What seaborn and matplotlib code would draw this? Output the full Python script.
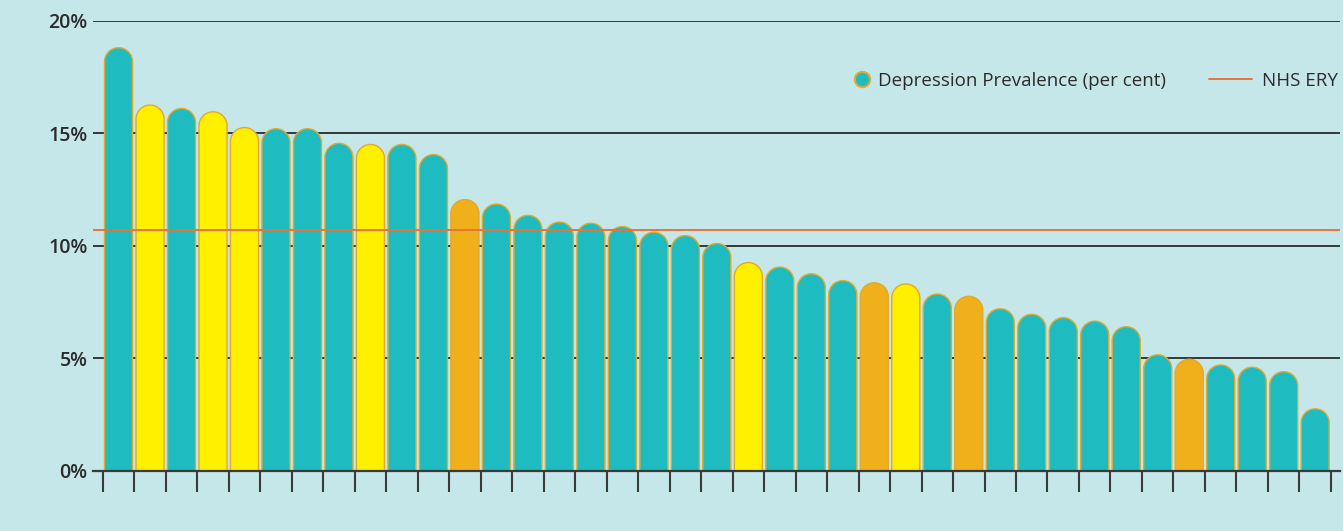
import numpy as np
import pandas as pd
import matplotlib
matplotlib.use("Agg")
import matplotlib.pyplot as plt
from matplotlib.path import Path
from matplotlib.patches import PathPatch
from matplotlib.lines import Line2D
import seaborn as sns

# Depression prevalence (per cent) by area, sorted high to low
prevalence = [18.8, 16.25, 16.1, 15.95, 15.25, 15.2, 15.2, 14.55, 14.5, 14.5,
              14.05, 12.05, 11.85, 11.35, 11.05, 11.0, 10.85, 10.6, 10.45, 10.1,
              9.25, 9.05, 8.75, 8.45, 8.35, 8.3, 7.85, 7.75, 7.2, 6.95,
              6.8, 6.65, 6.4, 5.15, 4.95, 4.7, 4.6, 4.4, 2.75]
# Grouping of each area
group = ["other", "peer", "other", "peer", "peer", "other", "other", "other", "peer", "other",
         "other", "local", "other", "other", "other", "other", "other", "other", "other", "other",
         "peer", "other", "other", "other", "local", "peer", "other", "local", "other", "other",
         "other", "other", "other", "other", "local", "other", "other", "other", "other"]
areas = [f"Area {i + 1}" for i in range(len(prevalence))]
nhs_ery = 10.7
y_ticks = [0, 5, 10, 15, 20]
y_tick_labels = ["0%", "5%", "10%", "15%", "20%"]
series_label = "Depression Prevalence (per cent)"
line_label = "NHS ERY"

BG = "#c5e7e9"
TEAL = "#1ebcc0"
YELLOW = "#fff000"
ORANGE = "#f0b01c"
EDGE = "#e3a92a"
LINE = "#e8743b"
INK = "#2b2b2b"
palette = {"other": TEAL, "peer": YELLOW, "local": ORANGE}

sns.set_theme(style="white")
plt.rcParams["font.family"] = ["Open Sans", "DejaVu Sans"]

df = pd.DataFrame({"area": areas, "value": prevalence, "group": group})

W, H = 1343, 531
fig = plt.figure(figsize=(W / 100, H / 100), dpi=100, facecolor=BG)
ax = fig.add_axes([0.0695, 0.1136, 0.9283, 0.8474])
ax.set_facecolor(BG)

sns.barplot(data=df, x="area", y="value", hue="group", palette=palette,
            saturation=1, dodge=False, width=0.89, legend=False, ax=ax, zorder=3)

ax.set_xlim(-0.8, 38.79)
ax.set_ylim(0, 20)

# Give each bar a rounded (semicircular) top
fig.canvas.draw()
bbox = ax.get_window_extent()
px_per_x = bbox.width / (ax.get_xlim()[1] - ax.get_xlim()[0])
px_per_y = bbox.height / (ax.get_ylim()[1] - ax.get_ylim()[0])
bars = list(ax.patches)
for p in bars:
    x0, w, h = p.get_x(), p.get_width(), p.get_height()
    if h <= 0:
        p.remove()
        continue
    rx = w / 2
    ry = rx * px_per_x / px_per_y
    xc = x0 + rx
    t = np.linspace(np.pi, 0, 40)
    arc = np.column_stack([xc + rx * np.cos(t), h - ry + ry * np.sin(t)])
    verts = np.vstack([[x0, 0], [x0, h - ry], arc, [x0 + w, 0], [x0, 0]])
    codes = [Path.MOVETO] + [Path.LINETO] * (len(verts) - 2) + [Path.CLOSEPOLY]
    fc = p.get_facecolor()
    p.remove()
    ax.add_patch(PathPatch(Path(verts, codes), facecolor=fc, edgecolor=EDGE,
                           linewidth=1.0, zorder=3))

# Reference line
ax.axhline(nhs_ery, color=LINE, linewidth=1.4, zorder=4)

# Gridlines and axes
for yv in y_ticks[1:]:
    ax.axhline(yv, color=INK, linewidth=1.3, zorder=1)
for s in ["left", "right", "top"]:
    ax.spines[s].set_visible(False)
ax.spines["bottom"].set_color("#3a3a3a")
ax.spines["bottom"].set_linewidth(1.6)
ax.spines["bottom"].set_zorder(5)

ax.set_yticks(y_ticks)
ax.set_yticklabels(y_tick_labels, fontsize=14, fontweight="semibold", color=INK)
ax.tick_params(axis="y", length=0, pad=4.3)
ax.set_xticks(np.arange(-0.5, len(prevalence), 1.0))
ax.set_xticklabels([])
ax.tick_params(axis="x", direction="out", length=15, width=1.5, color="#3a3a3a", bottom=True)
ax.set_xlabel("")
ax.set_ylabel("")

# Legend: two entries placed side by side along the top right
fs = 13.5
em = fs * 100 / 72
ly = 1 - 81 / H
marker_handle = Line2D([], [], marker="o", linestyle="none", markersize=11,
                       markerfacecolor=TEAL, markeredgecolor=EDGE, markeredgewidth=1.5)
line_handle = Line2D([], [], color=LINE, linewidth=1.4)
leg1 = fig.legend([marker_handle], [series_label], loc="center left",
                  bbox_to_anchor=((862 - em / 2) / W, ly), frameon=False,
                  fontsize=fs, labelcolor=INK, handlelength=1.0,
                  handletextpad=6.6 / em, borderpad=0, borderaxespad=0)
leg2 = fig.legend([line_handle], [line_label], loc="center left",
                  bbox_to_anchor=(1209 / W, ly), frameon=False,
                  fontsize=fs, labelcolor=INK, handlelength=43 / em,
                  handletextpad=10 / em, borderpad=0, borderaxespad=0)

fig.savefig("out.png", dpi=100, facecolor=BG)
